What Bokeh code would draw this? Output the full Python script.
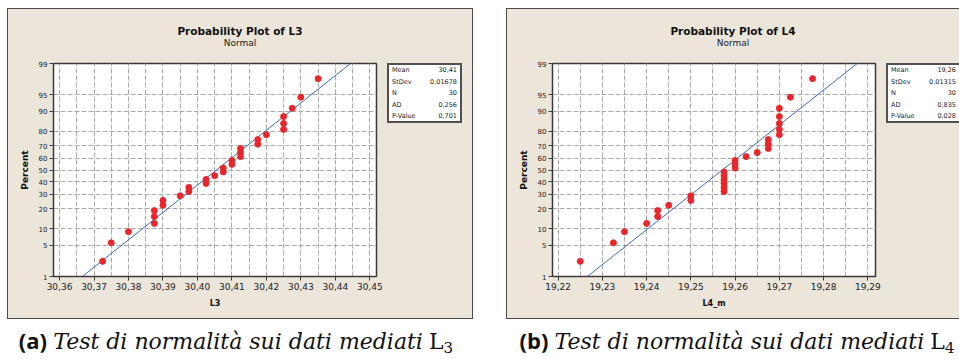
from statistics import NormalDist
from bokeh.plotting import figure
from bokeh.models import Range1d, FixedTicker, Div, Spacer
from bokeh.layouts import row, column
from bokeh.embed import file_html
from bokeh.resources import INLINE

# ---------------- data ----------------
percent = [2.30, 5.59, 8.88, 12.17, 15.46, 18.75, 22.04, 25.33, 28.62, 31.91,
           35.20, 38.49, 41.78, 45.07, 48.36, 51.64, 54.93, 58.22, 61.51, 64.80,
           68.09, 71.38, 74.67, 77.96, 81.25, 84.54, 87.83, 91.12, 94.41, 97.70]

l3_values = [30.3725, 30.375, 30.38, 30.3875, 30.3875, 30.3875, 30.39, 30.39, 30.395, 30.3975,
             30.3975, 30.4025, 30.4025, 30.405, 30.4075, 30.4075, 30.41, 30.41, 30.4125, 30.4125,
             30.4125, 30.4175, 30.4175, 30.42, 30.425, 30.425, 30.425, 30.4275, 30.43, 30.435]

l4_values = [19.225, 19.2325, 19.235, 19.24, 19.2425, 19.2425, 19.245, 19.25, 19.25, 19.2575,
             19.2575, 19.2575, 19.2575, 19.2575, 19.2575, 19.26, 19.26, 19.26, 19.2625, 19.265,
             19.2675, 19.2675, 19.2675, 19.27, 19.27, 19.27, 19.27, 19.27, 19.2725, 19.2775]

fit_percent = [1, 99]
fit_l3 = [30.3666, 30.4444]
fit_l4 = [19.2266, 19.2876]

x_ticks_l3 = [30.36, 30.37, 30.38, 30.39, 30.40, 30.41, 30.42, 30.43, 30.44, 30.45]
x_labels_l3 = ["30,36", "30,37", "30,38", "30,39", "30,40", "30,41", "30,42", "30,43", "30,44", "30,45"]
x_ticks_l4 = [19.22, 19.23, 19.24, 19.25, 19.26, 19.27, 19.28, 19.29]
x_labels_l4 = ["19,22", "19,23", "19,24", "19,25", "19,26", "19,27", "19,28", "19,29"]

y_ticks = [1, 5, 10, 20, 30, 40, 50, 60, 70, 80, 90, 95, 99]

stat_names = ["Mean", "StDev", "N", "AD", "P-Value"]
stat_l3 = ["30,41", "0,01678", "30", "0,256", "0,701"]
stat_l4 = ["19,26", "0,01315", "30", "0,835", "0,028"]

titles = ["Probability Plot of L3", "Probability Plot of L4"]
subtitle = "Normal"
x_axis_labels = ["L3", "L4_m"]
caption_letters = ["a", "b"]
caption_text = "Test di normalità sui dati mediati"
caption_subs = ["3", "4"]

# ---------------- styling ----------------
BEIGE = "#EBE5DA"
RED = "#E8262B"
BLUE = "#3A6BC0"
GRIDC = "#A9A9A9"
DARK = "#3a3a3a"
FONT = "DejaVu Sans"
BORDER = "1px solid #4a4a4a"
ND = NormalDist()


def z(p):
    return round(ND.inv_cdf(p / 100.0), 6)


def make_fig(values, fit_x, xticks, xlabels, xr, xlab):
    p = figure(width=377, height=265, output_backend="svg", toolbar_location=None,
               x_range=Range1d(*xr), y_range=Range1d(z(1), z(99)),
               min_border_left=45, min_border_right=9,
               min_border_top=10, min_border_bottom=42,
               background_fill_color="white", border_fill_color=BEIGE,
               outline_line_color=DARK, outline_line_width=1.5)
    mids = [(a + b) / 2 for a, b in zip(xticks[:-1], xticks[1:])]
    p.xgrid.ticker = FixedTicker(ticks=sorted(xticks + mids))
    p.ygrid.ticker = FixedTicker(ticks=[z(t) for t in y_ticks])
    for g in (p.xgrid, p.ygrid):
        g.grid_line_color = GRIDC
        g.grid_line_dash = "5 2"
        g.grid_line_width = 1

    xa = p.xaxis[0]
    xa.ticker = FixedTicker(ticks=xticks)
    xa.major_label_overrides = {t: l for t, l in zip(xticks, xlabels)}
    xa.axis_label = xlab
    xa.axis_label_text_font_size = "8px"
    xa.axis_label_standoff = 6

    ya = p.yaxis[0]
    ya.ticker = FixedTicker(ticks=[z(t) for t in y_ticks])
    ya.major_label_overrides = {z(t): str(t) for t in y_ticks}
    ya.axis_label = "Percent"
    ya.axis_label_text_font_size = "9px"
    ya.axis_label_standoff = 6

    for ax, fs in ((xa, "9px"), (ya, "7px")):
        ax.major_tick_out = 4
        ax.major_tick_in = 0
        ax.minor_tick_out = 0
        ax.axis_line_color = DARK
        ax.major_tick_line_color = DARK
        ax.major_label_text_font = FONT
        ax.major_label_text_font_size = fs
        ax.major_label_text_color = "#222222"
        ax.major_label_standoff = 2
        ax.axis_label_text_font = FONT
        ax.axis_label_text_font_style = "bold"
        ax.axis_label_text_color = "#111111"

    p.line(fit_x, [z(v) for v in fit_percent], line_color=BLUE, line_width=1)
    p.scatter(values, [z(v) for v in percent], size=6, fill_color=RED, line_color=RED)
    return p


def title_div(title, width):
    html = ('<div style="width:%dpx;padding-top:16px;text-align:center;font-family:\'DejaVu Sans\';color:#111;">'
            '<div style="font-size:10.5px;font-weight:bold;line-height:12px">%s</div>'
            '<div style="font-size:9px;line-height:12px;color:#222">%s</div></div>') % (width, title, subtitle)
    return Div(text=html, width=width, height=44, margin=0)


def stats_div(values, width):
    rows = "".join(
        '<div style="display:flex;justify-content:space-between;height:11.5px;line-height:11.5px">'
        '<span>%s</span><span>%s</span></div>' % (n, v) for n, v in zip(stat_names, values))
    html = ('<div style="width:%dpx;overflow:hidden;height:80px">'
            '<div style="margin-left:2px;margin-top:10px;width:75px;height:60px;box-sizing:border-box;'
            'border:2px solid #505050;background:white;font-family:\'DejaVu Sans\';font-size:6.5px;'
            'color:#222;padding:0 3px 0 3px">%s</div></div>') % (width, rows)
    return Div(text=html, width=width, height=265, margin=0)


def panel(values, fit_x, xticks, xlabels, xr, title, xlab, stats, inner_w, styles):
    fig = make_fig(values, fit_x, xticks, xlabels, xr, xlab)
    sd = stats_div(stats, inner_w - 377)
    st = dict(styles)
    st["background-color"] = BEIGE
    return column(title_div(title, inner_w), row(fig, sd), styles=st)


pa = panel(l3_values, fit_l3, x_ticks_l3, x_labels_l3, (30.35825, 30.45194), titles[0],
           x_axis_labels[0], stat_l3, 464, {"border": BORDER})
pb = panel(l4_values, fit_l4, x_ticks_l4, x_labels_l4, (19.21873, 19.29173), titles[1],
           x_axis_labels[1], stat_l4, 452,
           {"border-left": BORDER, "border-top": BORDER, "border-bottom": BORDER})


def caption(letter, sub, width, pad):
    html = ('<div style="width:%dpx;box-sizing:border-box;text-align:center;font-size:22px;line-height:26px;'
            'padding-top:8px;%scolor:#111;white-space:nowrap">'
            '<span style="font-family:\'Open Sans\';font-weight:bold">(%s)</span> '
            '<span style="font-family:\'DejaVu Serif\';font-style:italic">%s</span> '
            '<span style="font-family:\'DejaVu Serif\'">L<span style="position:relative;top:4px;'
            'font-size:15px">%s</span></span></div>') % (width, pad, letter, caption_text, sub)
    return Div(text=html, width=width, height=34, margin=0)


layout = column(
    Spacer(height=8),
    row(Spacer(width=7), pa, Spacer(width=33), pb),
    row(Spacer(width=7), caption(caption_letters[0], caption_subs[0], 466, "padding-right:8px;"),
        Spacer(width=33), caption(caption_letters[1], caption_subs[1], 453, "padding-left:9px;")),
)

open("out.html", "w").write(file_html(layout, INLINE))
